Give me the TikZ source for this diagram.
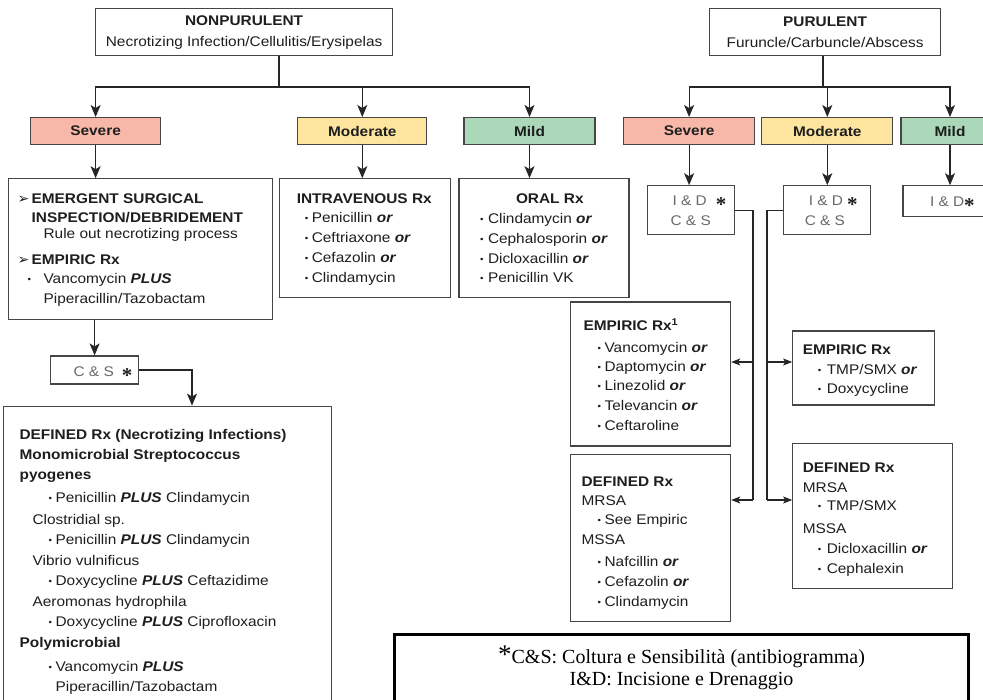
\documentclass[tikz,border=0pt]{standalone}
\usepackage{fontspec}
\setmainfont{Liberation Sans}[FakeStretch=1.1]
\newfontfamily\notefont{Liberation Serif}
\newfontfamily\symfont{DejaVu Sans}
\usepackage{tikz}
\usetikzlibrary{arrows.meta,positioning}
\definecolor{sevred}{RGB}{247, 184, 170}
\definecolor{modyellow}{RGB}{253, 229, 160}
\definecolor{mildgreen}{RGB}{170, 216, 184}
\definecolor{boxline}{RGB}{70, 70, 70}
\definecolor{txt}{RGB}{30, 30, 30}
\definecolor{idgray}{RGB}{105, 105, 105}
\tikzstyle{titlebox} = [draw=boxline, line width=1.2pt, fill=white, text=txt, align=center, inner sep=0pt, font=\fontsize{14}{21}\selectfont]
\tikzstyle{catbox} = [draw=boxline, line width=1.2pt, text=txt, minimum height=27pt, inner sep=0pt, font=\fontsize{14}{16}\selectfont\bfseries]
\tikzstyle{rxbox} = [draw=boxline, line width=1.2pt, fill=white, text=txt, inner sep=0pt]
\tikzstyle{tline} = [draw=black!85, line width=1.2pt]
\tikzstyle{tedge} = [tline, -{Stealth[length=12pt, width=10pt, inset=3pt]}]
\tikzstyle{sedge} = [tline, -{Stealth[length=9pt, width=7pt, inset=2pt]}]
% box text: width, height, top pad, left indent, lines
\newcommand{\rxtext}[5]{\parbox[t][#2pt][t]{#1pt}{\fontsize{14}{20}\selectfont\raggedright\leftskip=#4pt\vspace*{#3pt}\rule{0pt}{10pt}#5}}
\newcommand{\bul}[1]{\makebox[#1pt][l]{\raisebox{1pt}{\fontsize{9}{9}\selectfont •}}}
\newcommand{\arw}{\makebox[14pt][l]{\symfont\fontsize{14}{14}\selectfont ➢}}
\newcommand{\starmk}{{\notefont\bfseries\fontsize{21}{21}\selectfont\raisebox{-6pt}{*}}}
\newcommand{\bor}{\textbf{\textit{or}}}
\newcommand{\bplus}{\textbf{\textit{PLUS}}}
\begin{document}
\begin{tikzpicture}[x=1pt, y=-1pt]
\useasboundingbox (0,0) rectangle (983,700);

% headers =============================
\node[titlebox, minimum width=297pt, minimum height=47pt, anchor=north west] (nonpur) at (95,8) {\textbf{NONPURULENT}\\Necrotizing Infection/Cellulitis/Erysipelas};
\node[titlebox, minimum width=231pt, minimum height=47pt, anchor=north west] (purul) at (709,8) {\textbf{PURULENT}\\Furuncle/Carbuncle/Abscess};

% severity
\node[catbox, fill=sevred, minimum width=130pt, anchor=north west] (sev1) at (30,117) {Severe};
\node[catbox, fill=modyellow, minimum width=129pt, right=136pt of sev1] (mod1) {Moderate};
\node[catbox, fill=mildgreen, minimum width=131pt, right=36pt of mod1] (mild1) {Mild};
\node[catbox, fill=sevred, minimum width=131pt, anchor=north west] (sev2) at (623,117) {Severe};
\node[catbox, fill=modyellow, minimum width=131pt, right=6pt of sev2] (mod2) {Moderate};
\node[catbox, fill=mildgreen, minimum width=98pt, right=7pt of mod2] (mild2) {Mild};

% nonpurulent therapy
\node[rxbox, below right=33pt and -22pt of sev1.south west] (emerg) {\rxtext{264}{141}{15}{9}{%
\arw\textbf{EMERGENT SURGICAL}\\[-1pt]
\hspace*{14pt}\textbf{INSPECTION/DEBRIDEMENT}\\[-4pt]
\hspace*{26pt}Rule out necrotizing process\\[6pt]
\arw\textbf{EMPIRIC Rx}\\[-1pt]
\hspace*{10pt}\bul{16}Vancomycin \bplus\\
\hspace*{26pt}Piperacillin/Tazobactam}};
\node[rxbox, below right=33pt and -18pt of mod1.south west] (ivbox) {\rxtext{171}{119}{15}{17}{%
\textbf{INTRAVENOUS Rx}\\[-1pt]
\hspace*{8pt}\bul{7}Penicillin \bor\\
\hspace*{8pt}\bul{7}Ceftriaxone \bor\\
\hspace*{8pt}\bul{7}Cefazolin \bor\\
\hspace*{8pt}\bul{7}Clindamycin}};
\node[rxbox, below right=33pt and -5pt of mild1.south west] (oral) {\rxtext{170}{119}{15}{21}{%
\hspace*{36pt}\textbf{ORAL Rx}\\
\bul{8}Clindamycin \bor\\
\bul{8}Cephalosporin \bor\\
\bul{8}Dicloxacillin \bor\\[-1pt]
\bul{8}Penicillin VK}};
\node[rxbox, below right=35pt and 42pt of emerg.south west] (cs1) {\rxtext{88}{28}{11}{23}{\textcolor{idgray}{C \& S}\hspace{8pt}\starmk}};
\node[rxbox, below right=21pt and -47pt of cs1.south west] (def1) {\rxtext{328}{300}{23}{16}{%
\textbf{DEFINED Rx (Necrotizing Infections)}\\
\textbf{Monomicrobial Streptococcus}\\
\textbf{pyogenes}\\[3pt]
\hspace*{29pt}\bul{7}Penicillin \bplus\ Clindamycin\\[2pt]
\hspace*{13pt}Clostridial sp.\\
\hspace*{29pt}\bul{7}Penicillin \bplus\ Clindamycin\\[1pt]
\hspace*{13pt}Vibrio vulnificus\\
\hspace*{29pt}\bul{7}Doxycycline \bplus\ Ceftazidime\\[1pt]
\hspace*{13pt}Aeromonas hydrophila\\
\hspace*{29pt}\bul{7}Doxycycline \bplus\ Ciprofloxacin\\[1pt]
\textbf{Polymicrobial}\\[4pt]
\hspace*{29pt}\bul{7}Vancomycin \bplus\\
\hspace*{36pt}Piperacillin/Tazobactam}};

% purulent therapy
\node[rxbox, below right=40pt and 24pt of sev2.south west] (ids1) {\rxtext{87}{49}{10}{23}{%
\hspace*{2pt}\textcolor{idgray}{I \& D}\hspace{9pt}\starmk\\
\textcolor{idgray}{C \& S}}};
\node[rxbox, below right=40pt and 22pt of mod2.south west] (ids2) {\rxtext{87}{49}{10}{21}{%
\hspace*{4pt}\textcolor{idgray}{I \& D}\hspace{4pt}\starmk\\
\textcolor{idgray}{C \& S}}};
\node[rxbox, below right=40pt and 2pt of mild2.south west] (ids3) {\rxtext{100}{31}{11}{27}{\textcolor{idgray}{I \& D}\starmk}};
\node[rxbox, below right=66pt and -77pt of ids1.south west] (emp1) {\rxtext{160}{144}{17}{13}{%
\textbf{EMPIRIC Rx\textsuperscript{1}}\\[2pt]
\hspace*{14pt}\bul{7}Vancomycin \bor\\[-1pt]
\hspace*{14pt}\bul{7}Daptomycin \bor\\[-1pt]
\hspace*{14pt}\bul{7}Linezolid \bor\\
\hspace*{14pt}\bul{7}Televancin \bor\\
\hspace*{14pt}\bul{7}Ceftaroline}};
\node[rxbox, below=7pt of emp1] (def2) {\rxtext{160}{167}{22}{11}{%
\textbf{DEFINED Rx}\\[-1pt]
MRSA\\[-1pt]
\hspace*{16pt}\bul{7}See Empiric\\
MSSA\\[2pt]
\hspace*{16pt}\bul{7}Nafcillin \bor\\
\hspace*{16pt}\bul{7}Cefazolin \bor\\
\hspace*{16pt}\bul{7}Clindamycin}};
\node[rxbox, below right=95pt and 9pt of ids2.south west] (emp3) {\rxtext{142}{74}{14}{10}{%
\textbf{EMPIRIC Rx}\\
\hspace*{15pt}\bul{9}TMP/SMX \bor\\[-1pt]
\hspace*{15pt}\bul{9}Doxycycline}};
\node[rxbox, below right=37pt and 0pt of emp3.south west] (def3) {\rxtext{160}{145}{19}{10}{%
\textbf{DEFINED Rx}\\
MRSA\\[-2pt]
\hspace*{15pt}\bul{9}TMP/SMX\\[3pt]
MSSA\\
\hspace*{15pt}\bul{9}Dicloxacillin \bor\\
\hspace*{15pt}\bul{9}Cephalexin}};

% legend
\node[rxbox, draw=black, line width=3pt, text=black, anchor=north west] (note) at (393,633) {\parbox[t][75pt][t]{574pt}{\centering\notefont\fontsize{20}{22}\selectfont\vspace*{11pt}\rule{0pt}{10pt}{\fontsize{27}{27}\selectfont*}C\&S: Coltura e Sensibilità (antibiogramma)\\
I\&D: Incisione e Drenaggio}};

% edges =============================
\coordinate (njoin) at (279,87);
\coordinate (pjoin) at (823,87);
\coordinate (dtop) at ([xshift=189pt]def1.north west);
\coordinate (sbusA) at (753,362);
\coordinate (sbusB) at (753,500);
\coordinate (mbusA) at (767,362);
\coordinate (mbusB) at (767,500);

\path[tline] (njoin |- nonpur.south) -- (njoin);
\path[tedge] (njoin) -| (sev1.north);
\path[tedge] (njoin) -| (mod1.north);
\path[tedge] (njoin) -| (mild1.north);
\path[tline] (pjoin |- purul.south) -- (pjoin);
\path[tedge] (pjoin) -| (sev2.north);
\path[tedge] (pjoin) -| (mod2.north);
\path[tedge] (pjoin) -| (mild2.north);

\path[tedge] (sev1.south) -- (sev1.south |- emerg.north);
\path[tedge] (mod1.south) -- (mod1.south |- ivbox.north);
\path[tedge] (mild1.south) -- (mild1.south |- oral.north);
\path[tedge] (cs1.north |- emerg.south) -- (cs1.north);
\path[tedge] (cs1.east) -| (dtop);

\path[tedge] (sev2.south) -- (sev2.south |- ids1.north);
\path[tedge] (mod2.south) -- (mod2.south |- ids2.north);
\path[tedge] (mild2.south) -- (mild2.south |- ids3.north);
\path[tline] (ids1.east) -| (sbusB);
\path[sedge] (sbusA) -- (sbusA -| emp1.east);
\path[sedge] (sbusB) -- (sbusB -| def2.east);
\path[tline] (ids2.west) -| (mbusB);
\path[sedge] (mbusA) -- (mbusA -| emp3.west);
\path[sedge] (mbusB) -- (mbusB -| def3.west);

\end{tikzpicture}
\end{document}
